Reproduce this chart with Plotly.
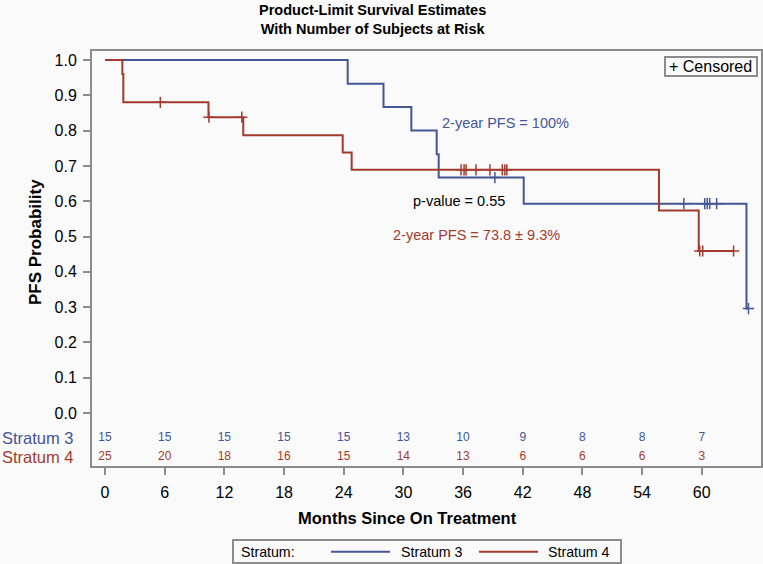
import plotly.graph_objects as go

FONT = "Liberation Sans, Arial, Helvetica, sans-serif"
BLUE = "#445694"
RED = "#A23A2E"
AXIS = "#8c8c8c"
BG = "#fafafa"

# ---- data ----
s3_time = [0, 24.4, 28.0, 30.8, 33.35, 33.55, 42.1, 64.5, 64.7]
s3_surv = [1.0, 0.933, 0.867, 0.800, 0.733, 0.667, 0.593, 0.296, 0.296]
s3_cens_time = [39.2, 58.2, 60.3, 60.55, 60.8, 61.5, 64.7]
s3_cens_surv = [0.667, 0.593, 0.593, 0.593, 0.593, 0.593, 0.296]

s4_time = [0, 1.74, 1.84, 10.4, 13.9, 23.9, 24.8, 55.7, 59.7, 63.2]
s4_surv = [1.0, 0.96, 0.88, 0.838, 0.787, 0.738, 0.689, 0.574, 0.459, 0.459]
s4_cens_time = [5.56, 10.45, 13.75, 35.8, 36.1, 36.3, 37.3, 38.7, 39.95, 40.2, 40.4, 59.8, 60.1, 63.2]
s4_cens_surv = [0.88, 0.838, 0.838, 0.689, 0.689, 0.689, 0.689, 0.689, 0.689, 0.689, 0.689, 0.459, 0.459, 0.459]

risk_times = [0, 6, 12, 18, 24, 30, 36, 42, 48, 54, 60]
s3_risk = [15, 15, 15, 15, 15, 13, 10, 9, 8, 8, 7]
s4_risk = [25, 20, 18, 16, 15, 14, 13, 6, 6, 6, 3]
risk_y3 = -0.0717
risk_y4 = -0.1255

x_ticks = list(range(0, 61, 6))
y_ticks = [i / 10 for i in range(11)]

W, H = 763, 564
L, R, T, B = 92, 2, 51, 98
PW, PH = W - L - R, H - T - B


def px(x):
    return (x - L) / PW


def py(y):
    return (H - B - y) / PH


fig = go.Figure()
fig.add_trace(go.Scatter(x=s3_time, y=s3_surv, mode="lines", line=dict(color=BLUE, width=2, shape="hv"),
                         name="Stratum 3", showlegend=False))
fig.add_trace(go.Scatter(x=s4_time, y=s4_surv, mode="lines", line=dict(color=RED, width=2, shape="hv"),
                         name="Stratum 4", showlegend=False))
fig.add_trace(go.Scatter(x=s3_cens_time, y=s3_cens_surv, mode="markers",
                         marker=dict(symbol="cross-thin", size=8, line=dict(color=BLUE, width=1.5)),
                         showlegend=False))
fig.add_trace(go.Scatter(x=s4_cens_time, y=s4_cens_surv, mode="markers",
                         marker=dict(symbol="cross-thin", size=8, line=dict(color=RED, width=1.5)),
                         showlegend=False))
fig.add_trace(go.Scatter(x=risk_times, y=[risk_y3] * len(risk_times), mode="text",
                         text=[str(v) for v in s3_risk], textfont=dict(family=FONT, size=12, color=BLUE),
                         showlegend=False))
fig.add_trace(go.Scatter(x=risk_times, y=[risk_y4] * len(risk_times), mode="text",
                         text=[str(v) for v in s4_risk], textfont=dict(family=FONT, size=12, color=RED),
                         showlegend=False))

ann = []
ann.append(dict(text="<b>Product-Limit Survival Estimates</b><br><b>With Number of Subjects at Risk</b>",
                xref="paper", yref="paper", x=px(372), y=py(19.5), xanchor="center", yanchor="middle",
                showarrow=False, font=dict(family=FONT, size=14.5, color="black")))
ann.append(dict(text="<b>Months Since On Treatment</b>", xref="paper", yref="paper", x=px(407), y=py(518),
                xanchor="center", yanchor="middle", showarrow=False, font=dict(family=FONT, size=16.5, color="black")))
ann.append(dict(text="<b>PFS Probability</b>", xref="paper", yref="paper", x=px(35), y=py(242), textangle=-90,
                xanchor="center", yanchor="middle", showarrow=False, font=dict(family=FONT, size=17, color="black")))
ann.append(dict(text="Stratum 3", xref="paper", yref="y", x=px(0), y=risk_y3, xanchor="left", yanchor="middle",
                showarrow=False, font=dict(family=FONT, size=16.5, color=BLUE)))
ann.append(dict(text="Stratum 4", xref="paper", yref="y", x=px(0), y=risk_y4, xanchor="left", yanchor="middle",
                showarrow=False, font=dict(family=FONT, size=16.5, color=RED)))
ann.append(dict(text="2-year PFS = 100%", xref="x", yref="y", x=33.68, y=0.821, xanchor="left", yanchor="middle",
                showarrow=False, font=dict(family=FONT, size=14.5, color=BLUE)))
ann.append(dict(text="p-value = 0.55", xref="x", yref="y", x=30.73, y=0.601, xanchor="left", yanchor="middle",
                showarrow=False, font=dict(family=FONT, size=14.5, color="black")))
ann.append(dict(text="2-year PFS = 73.8 ± 9.3%", xref="x", yref="y", x=28.76, y=0.504, xanchor="left",
                yanchor="middle", showarrow=False, font=dict(family=FONT, size=14.5, color=RED)))
# censored legend
ann.append(dict(text="+ Censored", xref="paper", yref="paper", x=px(667), y=py(66.5), xanchor="left",
                yanchor="middle", showarrow=False, font=dict(family=FONT, size=16, color="black")))
# bottom legend
ann.append(dict(text="Stratum:", xref="paper", yref="paper", x=px(239), y=py(551.5), xanchor="left",
                yanchor="middle", showarrow=False, font=dict(family=FONT, size=14.2, color="black")))
ann.append(dict(text="Stratum 3", xref="paper", yref="paper", x=px(399), y=py(551.5), xanchor="left",
                yanchor="middle", showarrow=False, font=dict(family=FONT, size=14.2, color="black")))
ann.append(dict(text="Stratum 4", xref="paper", yref="paper", x=px(546), y=py(551.5), xanchor="left",
                yanchor="middle", showarrow=False, font=dict(family=FONT, size=14.2, color="black")))

shapes = [
    dict(type="rect", xref="paper", yref="paper", x0=px(665), x1=px(757), y0=py(57), y1=py(76),
         line=dict(color=AXIS, width=2), fillcolor=BG, layer="below"),
    dict(type="rect", xref="paper", yref="paper", x0=px(233), x1=px(621), y0=py(540), y1=py(563),
         line=dict(color=AXIS, width=2), fillcolor=BG),
    dict(type="line", xref="paper", yref="paper", x0=px(331), x1=px(390), y0=py(551.7), y1=py(551.7),
         line=dict(color=BLUE, width=2)),
    dict(type="line", xref="paper", yref="paper", x0=px(479), x1=px(538), y0=py(551.7), y1=py(551.7),
         line=dict(color=RED, width=2)),
]

fig.update_layout(
    width=W, height=H,
    margin=dict(l=L, r=R, t=T, b=B, pad=0),
    paper_bgcolor=BG, plot_bgcolor=BG,
    font=dict(family=FONT, color="black"),
    showlegend=False,
    hovermode=False,
    annotations=ann,
    shapes=shapes,
    xaxis=dict(range=[-1.31, 65.96], tickvals=x_ticks, ticktext=[str(v) for v in x_ticks],
               showgrid=False, zeroline=False, showline=True, mirror=True, linecolor=AXIS, linewidth=2,
               ticks="outside", ticklen=7, tickwidth=2, tickcolor=AXIS, automargin=False,
               ticklabelstandoff=4,
               tickfont=dict(family=FONT, size=16, color="black")),
    yaxis=dict(range=[-0.150, 1.0255], tickvals=y_ticks, ticktext=["%.1f" % v for v in y_ticks],
               showgrid=False, zeroline=False, showline=True, mirror=True, linecolor=AXIS, linewidth=2,
               ticks="outside", ticklen=7, tickwidth=2, tickcolor=AXIS, automargin=False,
               ticklabelstandoff=3,
               tickfont=dict(family=FONT, size=16, color="black")),
)

fig.write_html("out.html", config={"displayModeBar": False},
               post_script="document.body.style.margin='0px';document.body.style.background='%s';" % BG)
